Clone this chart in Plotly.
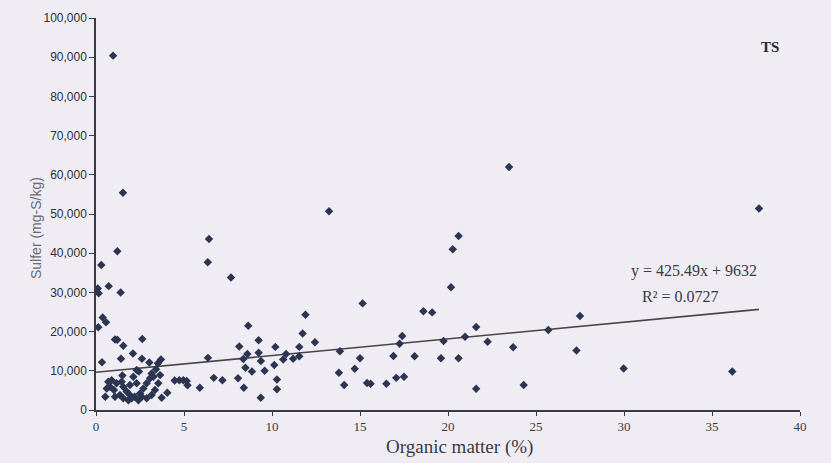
import plotly.graph_objects as go

# Organic matter (%) and Sulfer (mg-S/kg)
organic_matter = [
    0.97, 1.53, 1.21, 0.30, 0.72, 1.40, 0.10, 0.15, 6.42, 6.35, 7.67, 13.24, 23.47, 37.67,
    20.6, 20.27, 20.17, 18.6, 19.1, 27.5, 21.6, 25.7, 17.4, 17.25, 20.97, 19.75, 22.25,
    16.9, 18.1, 23.7, 27.3, 19.6, 20.6, 17.06, 17.5, 16.5, 15.6, 24.3, 21.6, 29.98, 36.15,
    15.15, 11.9, 8.65, 11.74, 9.24, 12.44, 8.14, 10.19, 11.55, 13.86, 8.6, 9.24, 6.36, 8.37,
    9.37, 10.8, 10.64, 11.2, 11.55, 15.0, 10.13, 8.49, 9.58, 8.86, 14.7, 13.8, 6.69, 7.18,
    8.07, 10.28, 14.1, 15.4, 8.4, 10.28, 5.9, 9.36, 4.96, 5.2,
    0.38, 0.57, 0.13, 1.21, 1.55, 2.63, 2.1, 1.42, 2.61, 0.34, 3.03, 3.69, 3.52, 3.41, 2.44,
    1.5, 3.26, 4.47, 4.73, 5.15, 4.05, 3.73, 0.53, 2.31,
    0.7, 0.8, 1.02, 1.17, 1.46, 1.55, 1.74, 1.93, 2.2, 2.5, 2.69, 2.88, 3.07, 3.16, 2.12,
    2.31, 1.93, 1.36, 1.55, 1.84, 2.03, 2.88, 3.16, 3.35, 3.54, 3.64, 0.89, 0.61, 1.08,
    2.41, 2.6, 1.08,
]
sulfer = [
    90400, 55400, 40500, 37000, 31600, 30000, 31000, 29800, 43600, 37700, 33800, 50700, 62000, 51400,
    44400, 41000, 31300, 25200, 24900, 24000, 21200, 20400, 18900, 16900, 18700, 17600, 17400,
    13800, 13700, 16000, 15200, 13200, 13200, 8200, 8500, 6700, 6700, 6400, 5400, 10600, 9800,
    27200, 24300, 21500, 19500, 17800, 17300, 16200, 16100, 16100, 15000, 14300, 14600, 13300, 13000,
    12500, 14300, 12900, 13100, 13700, 13200, 11500, 10800, 10000, 9800, 10500, 9500, 8200, 7600,
    8100, 7800, 6400, 6900, 5700, 5300, 5700, 3100, 7600, 6300,
    23600, 22400, 21100, 17900, 16400, 18100, 14400, 13100, 13100, 12200, 12100, 12900, 11900, 10400, 9800,
    8800, 8500, 7500, 7600, 7400, 4400, 3100, 3400, 10200,
    7200, 5900, 5100, 6800, 7200, 5900, 4700, 3800, 3400, 4200, 5500, 6800, 8100, 9300, 8500,
    6800, 6400, 3800, 3000, 2500, 3000, 3000, 3800, 5100, 6800, 8900, 7600, 5500, 3400,
    2500, 3400, 18000,
]

slope = 425.49
intercept = 9632
trend_x = [0, max(organic_matter)]
trend_y = [intercept + slope * v for v in trend_x]

x_ticks = [0, 5, 10, 15, 20, 25, 30, 35, 40]
y_ticks = [0, 10000, 20000, 30000, 40000, 50000, 60000, 70000, 80000, 90000, 100000]
y_tick_text = ["0", "10,000", "20,000", "30,000", "40,000", "50,000", "60,000",
               "70,000", "80,000", "90,000", "100,000"]

bg = "#efedf3"
ink = "#3a3a44"

W, H = 831, 463
ML, MR, MT, MB = 96, 31, 18, 53
pw, ph = W - ML - MR, H - MT - MB


def px2paper(px, py):
    return (px - ML) / pw, (H - MB - py) / ph


fig = go.Figure()
fig.add_trace(go.Scatter(
    x=trend_x, y=trend_y, mode="lines",
    line=dict(color="#4a4244", width=1.6), hoverinfo="skip", showlegend=False,
))
fig.add_trace(go.Scatter(
    x=organic_matter, y=sulfer, mode="markers",
    marker=dict(symbol="diamond", size=6.5, color="#2b3552"),
    showlegend=False,
))

annots = []
for (px, py, text, fam, size, color, ang) in [
    (770, 47, "<b>TS</b>", "Liberation Serif, serif", 15, "#2a2a30", 0),
    (694, 271, "y = 425.49x + 9632", "Liberation Serif, serif", 16, ink, 0),
    (680, 296, "R² = 0.0727", "Liberation Serif, serif", 16, ink, 0),
    (459, 447, "Organic matter (%)", "Liberation Serif, serif", 19, ink, 0),
    (36, 228, "Sulfer (mg-S/kg)", "Liberation Sans, sans-serif", 14, "#6a6a72", -90),
]:
    ax, ay = px2paper(px, py)
    annots.append(dict(x=ax, y=ay, xref="paper", yref="paper", text=text, showarrow=False,
                       xanchor="center", yanchor="middle", textangle=ang,
                       font=dict(family=fam, size=size, color=color)))

fig.update_layout(
    width=W, height=H,
    paper_bgcolor=bg, plot_bgcolor=bg,
    margin=dict(l=ML, r=MR, t=MT, b=MB, autoexpand=False),
    xaxis=dict(
        range=[0, 40], tickvals=x_ticks, ticks="outside", ticklen=4, tickwidth=1.2,
        tickcolor=ink, showline=True, linecolor=ink, linewidth=1.5, showgrid=False,
        zeroline=False, automargin=False,
        tickfont=dict(family="Liberation Serif, serif", size=13, color=ink),
    ),
    yaxis=dict(
        range=[0, 100000], tickvals=y_ticks, ticktext=y_tick_text, ticks="outside",
        ticklen=5, tickwidth=1.2, tickcolor=ink, showline=True, linecolor=ink,
        linewidth=1.5, showgrid=False, zeroline=False, automargin=False,
        tickfont=dict(family="Liberation Sans, sans-serif", size=12, color="#2e2e36"),
    ),
    annotations=annots,
)

fig.write_html(
    "out.html",
    config={"displayModeBar": False},
    post_script="document.body.style.margin='0';document.body.style.background='%s';" % bg,
)
